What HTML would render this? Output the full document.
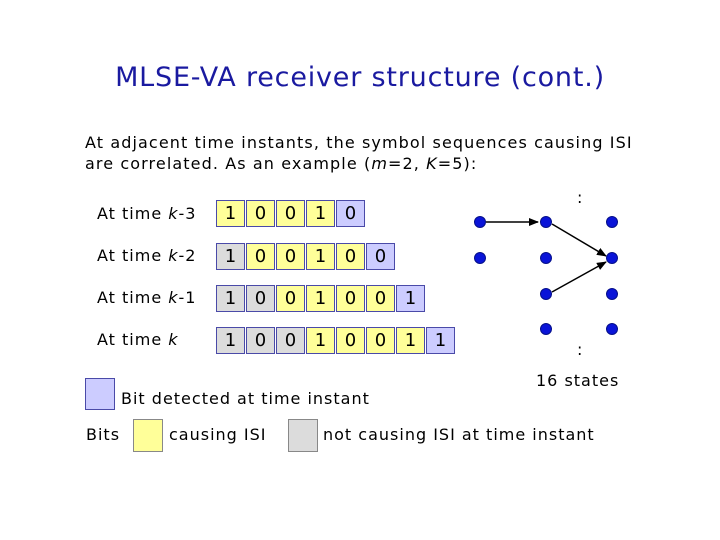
<!DOCTYPE html>
<html><head><style>
body{margin:0;width:720px;height:540px;background:#fff;position:relative;font-family:"DejaVu Sans","Liberation Sans",sans-serif;overflow:hidden}
.t{position:absolute;white-space:nowrap;color:#000;letter-spacing:1px}
.c{position:absolute;width:29px;height:27px;border:1px solid #4a4aa8;box-sizing:border-box;font-size:18px;text-align:center;line-height:26px}
.y{background:#ffff99}.g{background:#dcdcdc}.b{background:#ccccff}
</style></head><body>
<div class="t" style="left:0;width:720px;text-align:center;top:62px;font-size:27px;color:#1a1aa0;letter-spacing:0.8px">MLSE-VA receiver structure (cont.)</div>
<div class="t" style="left:85px;top:132px;font-size:16px;line-height:21px;letter-spacing:1.1px">At adjacent time instants, the symbol sequences causing ISI<br>are correlated. As an example (<i>m</i>=2, <i>K</i>=5):</div>
<div class="t" style="left:97px;top:204px;font-size:16px">At time <i>k</i>-3</div>
<div class="t" style="left:97px;top:246px;font-size:16px">At time <i>k</i>-2</div>
<div class="t" style="left:97px;top:288px;font-size:16px">At time <i>k</i>-1</div>
<div class="t" style="left:97px;top:330px;font-size:16px">At time <i>k</i></div>
<div id="cells"></div>
<svg style="position:absolute;left:0;top:0" width="720" height="540">
<defs><marker id="a" markerWidth="10" markerHeight="8" refX="9" refY="4" orient="auto" markerUnits="userSpaceOnUse"><path d="M0,0L10,4L0,8z" fill="#000"/></marker></defs>
<line x1="486" y1="222" x2="538" y2="222" stroke="#000" stroke-width="1.5" marker-end="url(#a)"/>
<line x1="552" y1="224" x2="606" y2="256" stroke="#000" stroke-width="1.5" marker-end="url(#a)"/>
<line x1="552" y1="292" x2="606" y2="262" stroke="#000" stroke-width="1.5" marker-end="url(#a)"/>
<g fill="#0a14d8" stroke="#06108a" stroke-width="1">
<circle cx="480" cy="222" r="5.5"/><circle cx="480" cy="258" r="5.5"/>
<circle cx="546" cy="222" r="5.5"/><circle cx="546" cy="258" r="5.5"/><circle cx="546" cy="294" r="5.5"/><circle cx="546" cy="329" r="5.5"/>
<circle cx="612" cy="222" r="5.5"/><circle cx="612" cy="258" r="5.5"/><circle cx="612" cy="294" r="5.5"/><circle cx="612" cy="329" r="5.5"/>
</g>
</svg>
<div class="t" style="left:577px;top:188px;font-size:16px">:</div>
<div class="t" style="left:577px;top:340px;font-size:16px">:</div>
<div class="t" style="left:536px;top:371px;font-size:16px">16 states</div>
<div style="position:absolute;left:85px;top:378px;width:30px;height:32px;border:1px solid #4a4aa8;box-sizing:border-box;background:#ccccff"></div>
<div class="t" style="left:121px;top:389px;font-size:16px">Bit detected at time instant</div>
<div class="t" style="left:86px;top:425px;font-size:16px">Bits</div>
<div style="position:absolute;left:133px;top:419px;width:30px;height:33px;border:1px solid #888;box-sizing:border-box;background:#ffff99"></div>
<div class="t" style="left:169px;top:425px;font-size:16px">causing ISI</div>
<div style="position:absolute;left:288px;top:419px;width:30px;height:33px;border:1px solid #888;box-sizing:border-box;background:#dcdcdc"></div>
<div class="t" style="left:323px;top:425px;font-size:16px">not causing ISI at time instant</div>
<script>
var rows=[[200,"10010","yyyyb"],[243,"100100","gyyyyb"],[285,"1001001","ggyyyyb"],[327,"10010011","gggyyyyb"]];
var h="";rows.forEach(function(r){for(var i=0;i<r[1].length;i++){h+='<div class="c '+r[2][i]+'" style="left:'+(216+i*30)+'px;top:'+r[0]+'px">'+r[1][i]+'</div>';}});
document.getElementById("cells").innerHTML=h;
</script>
</body></html>
